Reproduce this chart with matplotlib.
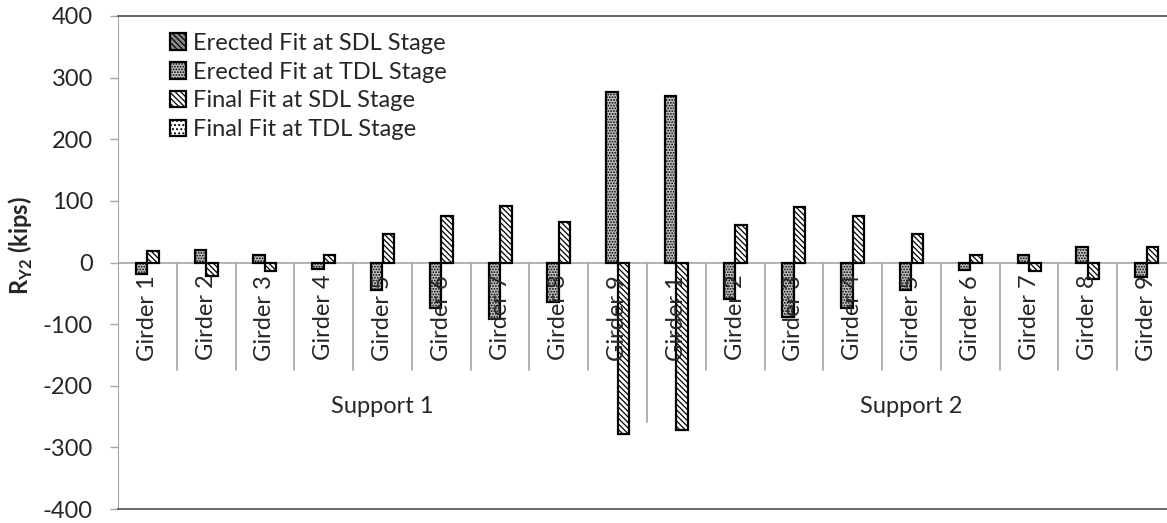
import numpy as np
import matplotlib
matplotlib.use("Agg")
import matplotlib.pyplot as plt
from matplotlib.patches import Patch

plt.rcParams['font.family'] = ['Lato', 'DejaVu Sans']
plt.rcParams['hatch.linewidth'] = 0.9
plt.rcParams['axes.unicode_minus'] = False

supports = ['Support 1', 'Support 2']
girders = ['Girder 1', 'Girder 2', 'Girder 3', 'Girder 4', 'Girder 5',
           'Girder 6', 'Girder 7', 'Girder 8', 'Girder 9']
categories = girders + girders

# reactions R_Y2 in kips, support 1 girders 1-9 then support 2 girders 1-9
erected_sdl = [np.nan] * 18   # no values reported for this stage
erected_tdl = [-19, 20, 12, -10, -45, -74, -91, -64, 276,
               270, -60, -88, -74, -45, -12, 12, 25, -24]
final_sdl = [18, -22, -13, 12, 46, 76, 92, 66, -278,
             -271, 61, 90, 75, 46, 12, -13, -27, 25]
final_tdl = [np.nan] * 18     # no values reported for this stage

series = ['Erected Fit at SDL Stage', 'Erected Fit at TDL Stage',
          'Final Fit at SDL Stage', 'Final Fit at TDL Stage']
faces = ['#8c8c8c', '#c0c0c0', 'white', 'white']
hatches = ['\\\\\\\\\\\\', '......', '\\\\\\\\\\\\', '....']
txt = '#262626'
fs = 17

fig = plt.figure(figsize=(11.67, 5.23), dpi=100)
ax = fig.add_axes([118 / 1167, 14 / 523, 1058 / 1167, 493 / 523])

x = np.arange(len(categories))
w = 0.196
for k, vals in enumerate([erected_sdl, erected_tdl, final_sdl, final_tdl]):
    ax.bar(x + (k - 1.5) * w, vals, w, color=faces[k], hatch=hatches[k],
           edgecolor='black', linewidth=1.6, zorder=3)

ax.set_xlim(-0.5, len(categories) - 0.5)
ax.set_ylim(-400, 400)
ax.set_yticks(range(-400, 401, 100))
ax.set_xticks([])
ax.tick_params(axis='y', length=6, width=1, color='#a6a6a6',
               labelsize=fs, labelcolor=txt, pad=12)

ax.spines['left'].set_color('#a6a6a6')
for s in ['top', 'bottom']:
    ax.spines[s].set_color('#595959')
    ax.spines[s].set_linewidth(1.3)
ax.spines['right'].set_visible(False)

# category axis sits at zero
ax.axhline(0, color='#a6a6a6', lw=1.2, zorder=2)
for b in range(1, len(categories)):
    bottom = -259 if b == 9 else -174
    ax.plot([b - 0.5, b - 0.5], [0, bottom], color='#a6a6a6', lw=1.2, zorder=1)

for i, name in enumerate(categories):
    ax.text(i, -20, name, rotation=90, ha='center', va='top',
            fontsize=fs, color=txt, zorder=4)
for j, name in enumerate(supports):
    ax.text(j * 9 + 4, -234, name, ha='center', va='center',
            fontsize=fs, color=txt)

ax.set_ylabel('R$_{\\mathregular{Y2}}$ (kips)', fontsize=fs, fontweight='bold',
              color=txt)
ax.yaxis.set_label_coords(-0.078, 0.535)

handles = [Patch(facecolor=faces[k], hatch=hatches[k], edgecolor='black',
                 linewidth=1.6, label=series[k]) for k in range(4)]
ax.legend(handles=handles, loc='upper left', bbox_to_anchor=(0.049, 0.966),
          frameon=False, fontsize=fs, handlelength=0.7, handleheight=0.7,
          handletextpad=0.3, labelspacing=0.33, borderaxespad=0,
          borderpad=0, labelcolor=txt)

fig.savefig('out.png', dpi=100)
